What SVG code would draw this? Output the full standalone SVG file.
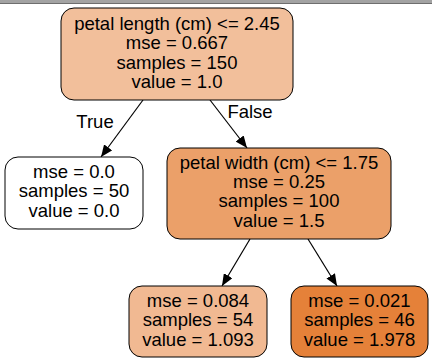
<svg xmlns="http://www.w3.org/2000/svg" width="432" height="363" viewBox="0 0 432 363">
<style>
.node rect{stroke:#000;stroke-width:1}
text{font-family:"Liberation Sans",Arial,sans-serif;font-size:18.5px;fill:#000;text-anchor:middle}
.edge line{stroke:#000;stroke-width:1.2}
</style>
<defs>
<marker id="ah" viewBox="0 0 12 10" refX="12" refY="5" markerWidth="12" markerHeight="10" markerUnits="userSpaceOnUse" orient="auto">
<path d="M0,0 L12,5 L0,10 z" fill="#000"/>
</marker>
</defs>
<rect x="0" y="0" width="432" height="363" fill="#fff"/>
<rect x="0" y="0" width="432" height="3" fill="#a3a3a3"/>
<rect x="0" y="3" width="432" height="1" fill="#6e6e6e"/>
<g id="edges" class="edge">
<line x1="143" y1="100" x2="101" y2="157" marker-end="url(#ah)"/>
<line x1="210" y1="100" x2="247" y2="148" marker-end="url(#ah)"/>
<line x1="250" y1="239" x2="222" y2="286" marker-end="url(#ah)"/>
<line x1="308" y1="239" x2="337" y2="286" marker-end="url(#ah)"/>
<text x="95" y="128">True</text>
<text x="250" y="118">False</text>
</g>
<g id="node0" class="node">
<rect x="61" y="8" width="232" height="92" rx="13" fill="#f2bf9b"/>
<text x="177" y="29.5">petal length (cm) &lt;= 2.45</text>
<text x="177" y="49">mse = 0.667</text>
<text x="177" y="68.5">samples = 150</text>
<text x="177" y="88">value = 1.0</text>
</g>
<g id="node1" class="node">
<rect x="5" y="157" width="138" height="72" rx="13" fill="#ffffff"/>
<text x="74" y="177.5">mse = 0.0</text>
<text x="74" y="197">samples = 50</text>
<text x="74" y="216.5">value = 0.0</text>
</g>
<g id="node2" class="node">
<rect x="167" y="148" width="224" height="91" rx="13" fill="#eba069"/>
<text x="279" y="168.5">petal width (cm) &lt;= 1.75</text>
<text x="279" y="187.5">mse = 0.25</text>
<text x="279" y="207">samples = 100</text>
<text x="279" y="226.5">value = 1.5</text>
</g>
<g id="node3" class="node">
<rect x="129" y="286" width="138" height="71" rx="13" fill="#f1b992"/>
<text x="198" y="306.5">mse = 0.084</text>
<text x="198" y="326">samples = 54</text>
<text x="198" y="345.5">value = 1.093</text>
</g>
<g id="node4" class="node">
<rect x="291" y="286" width="137" height="71" rx="13" fill="#e58139"/>
<text x="359.5" y="306.5">mse = 0.021</text>
<text x="359.5" y="326">samples = 46</text>
<text x="359.5" y="345.5">value = 1.978</text>
</g>
</svg>
